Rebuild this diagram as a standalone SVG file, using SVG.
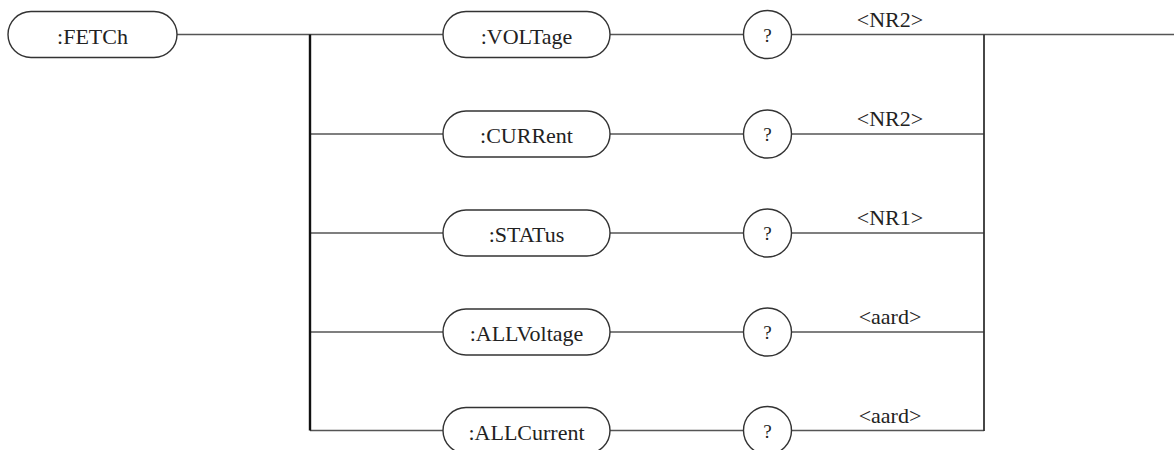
<svg xmlns="http://www.w3.org/2000/svg" width="1174" height="450" viewBox="0 0 1174 450">
<style>
.pill{fill:#fff;stroke:#333;stroke-width:1.4}
.ln{fill:none;stroke:#555;stroke-width:1.6}
.vl{fill:none;stroke:#111;stroke-width:2.4}
.vr{fill:none;stroke:#333;stroke-width:1.8}
text{font-family:"Liberation Serif","Times New Roman",serif;font-size:22px;fill:#222;text-anchor:middle}
.q{font-size:19px}
</style>
<rect width="1174" height="450" fill="#fff"/>
<g id="connectors">
<path class="ln" d="M177,34.5H443M610,34.5H744M791,34.5H1174"/>
<path class="ln" d="M310,134H443M610,134H744M791,134H984"/>
<path class="ln" d="M310,233H443M610,233H744M791,233H984"/>
<path class="ln" d="M310,332H443M610,332H744M791,332H984"/>
<path class="ln" d="M310,430.5H443M610,430.5H744M791,430.5H984"/>
<path class="vl" d="M310,34.5V430.5"/>
<path class="vr" d="M984,34.5V431"/>
</g>
<g id="fetch"><rect class="pill" x="8" y="11.5" width="169" height="46" rx="23"/><text x="92.5" y="43.5">:FETCh</text></g>
<g id="voltage"><rect class="pill" x="443" y="11.5" width="167" height="46" rx="23"/><text x="526.5" y="43.5">:VOLTage</text></g>
<g id="q1"><circle class="pill" cx="767.5" cy="34.5" r="24"/><text class="q" x="767.5" y="41.5">?</text></g>
<g id="nr2a"><text x="890" y="27">&lt;NR2&gt;</text></g>
<g id="current"><rect class="pill" x="443" y="111" width="167" height="46" rx="23"/><text x="526.5" y="143">:CURRent</text></g>
<g id="q2"><circle class="pill" cx="767.5" cy="134" r="24"/><text class="q" x="767.5" y="141">?</text></g>
<g id="nr2b"><text x="890" y="126">&lt;NR2&gt;</text></g>
<g id="status"><rect class="pill" x="443" y="210" width="167" height="46" rx="23"/><text x="526.5" y="242">:STATus</text></g>
<g id="q3"><circle class="pill" cx="767.5" cy="233" r="24"/><text class="q" x="767.5" y="240">?</text></g>
<g id="nr1"><text x="890" y="225">&lt;NR1&gt;</text></g>
<g id="allvoltage"><rect class="pill" x="443" y="309" width="167" height="46" rx="23"/><text x="526.5" y="341">:ALLVoltage</text></g>
<g id="q4"><circle class="pill" cx="767.5" cy="332" r="24"/><text class="q" x="767.5" y="339">?</text></g>
<g id="aard1"><text x="890" y="324">&lt;aard&gt;</text></g>
<g id="allcurrent"><rect class="pill" x="443" y="407.5" width="167" height="46" rx="23"/><text x="526.5" y="439.5">:ALLCurrent</text></g>
<g id="q5"><circle class="pill" cx="767.5" cy="430.5" r="24"/><text class="q" x="767.5" y="437.5">?</text></g>
<g id="aard2"><text x="890" y="422.5">&lt;aard&gt;</text></g>
</svg>
